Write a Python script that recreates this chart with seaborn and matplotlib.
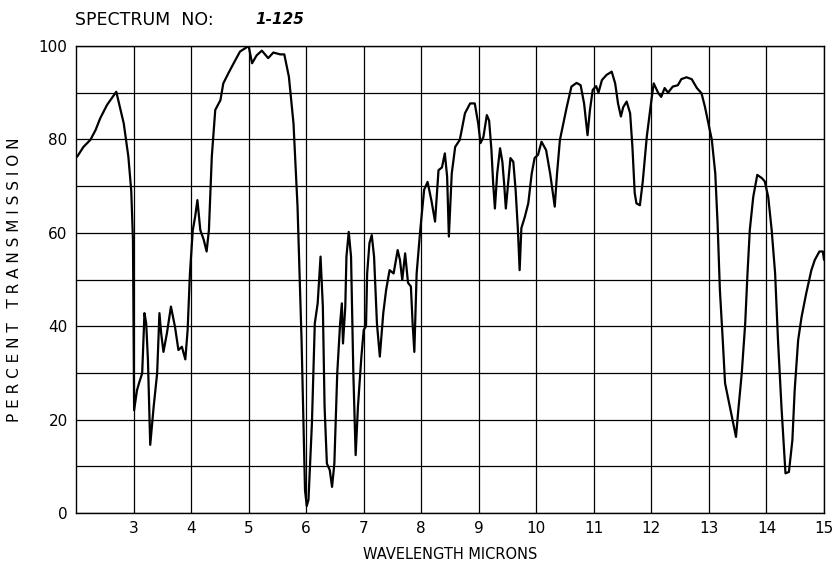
import matplotlib
matplotlib.use("Agg")
import matplotlib.pyplot as plt
import seaborn as sns
import pandas as pd

wavelength = [2.02, 2.13, 2.25, 2.34, 2.42, 2.54, 2.70, 2.83, 2.91, 2.96, 2.99, 3.01, 3.06, 3.10, 3.15,
              3.19, 3.22, 3.25, 3.29, 3.35, 3.41, 3.45, 3.48, 3.52, 3.58, 3.65, 3.72, 3.78, 3.84, 3.90,
              3.94, 3.98, 4.03, 4.07, 4.11, 4.16, 4.22, 4.27, 4.31, 4.36, 4.42, 4.51, 4.56, 4.65, 4.74,
              4.85, 5.00, 5.06, 5.14, 5.23, 5.34, 5.43, 5.55, 5.62, 5.70, 5.78, 5.85, 5.92, 5.98, 6.01,
              6.04, 6.10, 6.15, 6.20, 6.25, 6.29, 6.32, 6.36, 6.41, 6.45, 6.49, 6.54, 6.59, 6.62, 6.64,
              6.68, 6.70, 6.74, 6.78, 6.82, 6.86, 6.90, 6.96, 7.00, 7.04, 7.06, 7.10, 7.14, 7.18, 7.23,
              7.28, 7.34, 7.39, 7.45, 7.52, 7.59, 7.63, 7.67, 7.72, 7.77, 7.82, 7.85, 7.88, 7.92, 7.98,
              8.05, 8.11, 8.18, 8.24, 8.30, 8.36, 8.41, 8.45, 8.48, 8.53, 8.59, 8.67, 8.76, 8.85, 8.93,
              8.99, 9.03, 9.08, 9.14, 9.18, 9.22, 9.25, 9.28, 9.32, 9.37, 9.41, 9.44, 9.47, 9.51, 9.55,
              9.60, 9.64, 9.68, 9.71, 9.74, 9.80, 9.86, 9.92, 9.97, 10.03, 10.09, 10.17, 10.24, 10.32, 10.36,
              10.41, 10.47, 10.53, 10.61, 10.70, 10.77, 10.83, 10.89, 10.93, 10.98, 11.04, 11.08, 11.14, 11.22, 11.31,
              11.37, 11.42, 11.47, 11.51, 11.57, 11.63, 11.67, 11.71, 11.74, 11.80, 11.85, 11.92, 12.00, 12.04, 12.12,
              12.17, 12.23, 12.29, 12.37, 12.46, 12.52, 12.61, 12.70, 12.79, 12.87, 12.93, 12.99, 13.05, 13.11, 13.15,
              13.19, 13.24, 13.28, 13.34, 13.40, 13.47, 13.51, 13.57, 13.63, 13.67, 13.71, 13.77, 13.84, 13.92, 13.97,
              14.03, 14.09, 14.15, 14.20, 14.26, 14.33, 14.39, 14.45, 14.49, 14.55, 14.61, 14.69, 14.78, 14.84, 14.92,
              14.98, 15.00]
transmission = [76.3, 78.4, 79.9, 82.0, 84.5, 87.4, 90.2, 83.4, 76.3, 69.0, 58.5, 22.0, 26.3, 28.0, 29.9,
                42.8, 40.6, 32.8, 14.6, 22.8, 29.9, 42.8, 38.5, 34.5, 38.5, 44.2, 39.9, 34.9, 35.6, 32.9,
                39.2, 51.3, 60.6, 63.4, 67.0, 60.6, 58.5, 56.0, 60.6, 76.3, 86.3, 88.4, 92.0, 94.2, 96.3,
                98.8, 100.0, 96.3, 98.0, 99.0, 97.4, 98.6, 98.2, 98.2, 93.4, 83.4, 65.6, 37.0, 4.9, 1.5,
                2.8, 19.2, 40.6, 44.9, 54.9, 44.2, 22.8, 10.6, 9.2, 5.6, 10.6, 29.9, 40.6, 44.9, 36.3,
                44.2, 54.9, 60.2, 54.9, 29.9, 12.4, 22.8, 33.5, 39.2, 40.0, 51.3, 57.8, 59.5, 54.9, 40.6,
                33.5, 42.8, 47.8, 52.0, 51.3, 56.3, 54.2, 49.9, 55.6, 49.3, 48.5, 40.6, 34.5, 51.3, 60.2,
                69.2, 70.9, 66.7, 62.4, 73.4, 74.0, 77.0, 72.0, 59.2, 72.7, 78.4, 79.9, 85.6, 87.7, 87.7,
                83.4, 79.2, 80.5, 85.2, 84.0, 77.7, 70.6, 65.2, 72.7, 78.1, 75.2, 70.6, 65.2, 70.6, 76.0,
                75.2, 69.2, 60.6, 52.0, 61.0, 63.4, 66.3, 72.7, 76.0, 76.7, 79.5, 77.7, 72.7, 65.6, 72.7,
                79.9, 83.4, 87.0, 91.3, 92.1, 91.6, 87.7, 80.9, 86.1, 90.6, 91.4, 90.0, 92.7, 93.8, 94.5,
                92.0, 87.7, 84.9, 86.9, 88.1, 85.6, 78.4, 68.5, 66.3, 65.9, 71.0, 80.6, 88.4, 92.0, 89.9,
                89.1, 91.0, 90.0, 91.3, 91.6, 92.9, 93.3, 92.9, 91.0, 89.9, 87.0, 83.4, 79.9, 72.7, 62.0,
                47.8, 37.0, 27.8, 24.2, 20.6, 16.3, 22.0, 29.9, 40.6, 51.3, 60.6, 67.7, 72.4, 71.7, 71.0,
                67.7, 60.6, 51.3, 37.0, 22.8, 8.5, 8.8, 15.6, 26.3, 37.0, 42.0, 47.0, 52.0, 54.2, 56.0,
                56.0, 54.2]

x_ticks = [3, 4, 5, 6, 7, 8, 9, 10, 11, 12, 13, 14, 15]
y_ticks = [0, 20, 40, 60, 80, 100]

df = pd.DataFrame({"wavelength": wavelength, "transmission": transmission})

sns.set_style("white")
plt.rcParams['font.family'] = ['DejaVu Sans']
plt.rcParams['text.color'] = 'black'
plt.rcParams['axes.labelcolor'] = 'black'
plt.rcParams['xtick.color'] = 'black'
plt.rcParams['ytick.color'] = 'black'

fig = plt.figure(figsize=(8.37, 5.67), dpi=100)
ax = fig.add_axes([0.0908, 0.0952, 0.8937, 0.8237])

sns.lineplot(data=df, x="wavelength", y="transmission", sort=False, color="black",
             linewidth=1.6, ax=ax)

ax.set_xlim(2, 15)
ax.set_ylim(0, 100)
ax.set_xticks(x_ticks)
ax.set_xticklabels([str(t) for t in x_ticks], fontsize=11)
ax.set_yticks(y_ticks)
ax.set_yticklabels([str(t) for t in y_ticks], fontsize=11)
ax.set_yticks(range(0, 101, 10), minor=True)
ax.grid(True, which="both", color="black", linewidth=0.9)
ax.tick_params(axis="both", which="both", length=0, pad=6)
for s in ax.spines.values():
    s.set_color("black")
    s.set_linewidth(1.0)

ax.set_xlabel("WAVELENGTH MICRONS", fontsize=10.5, labelpad=8)
ax.set_ylabel("P E R C E N T   T R A N S M I S S I O N", fontsize=11, labelpad=12)

fig.text(0.0896, 0.965, "SPECTRUM  NO:", fontsize=12.5, ha="left", va="center")
fig.text(0.305, 0.965, "1-125", fontsize=11, ha="left", va="center", style="italic", weight="bold")

fig.savefig("out.png", dpi=100, facecolor="white")
